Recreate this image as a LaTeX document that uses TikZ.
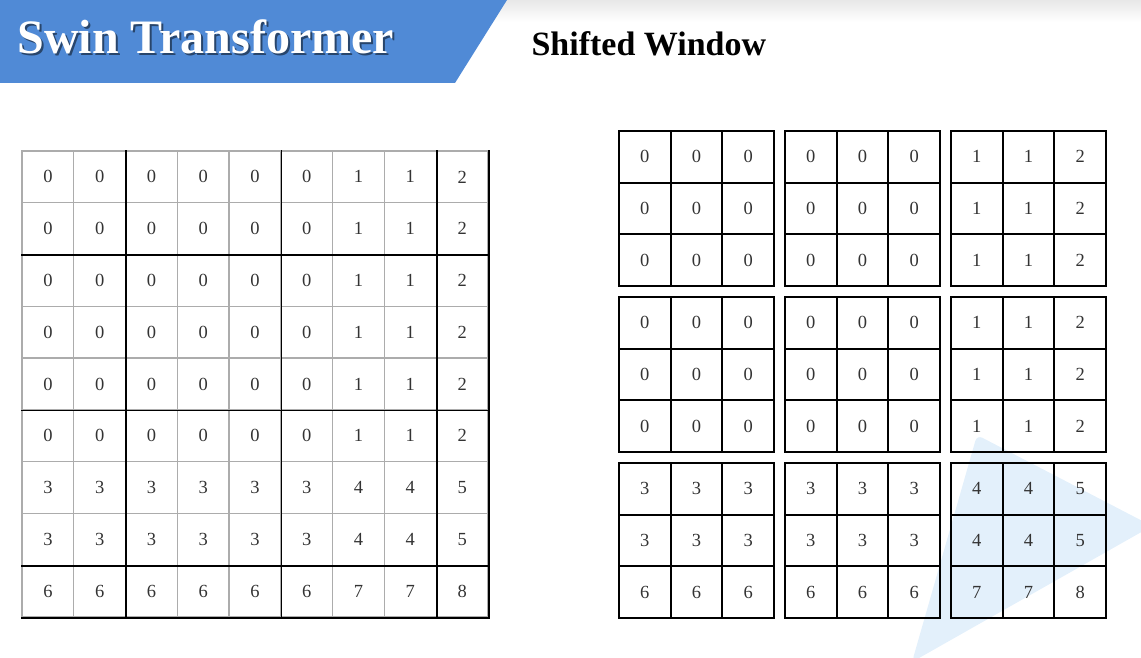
\documentclass[tikz,border=0pt]{standalone}
\usepackage{fontspec}
\setmainfont{Liberation Serif}
\definecolor{swinblue}{RGB}{80,138,214}
\definecolor{markblue}{RGB}{227,240,251}
\definecolor{gridgray}{RGB}{172,172,172}
\tikzset{
every cell/.style={ % Sets the properties for each number box
inner sep=0pt,
text=black!80,
font=\fontsize{18.5}{20}\selectfont},
lcell/.style={every cell, % Boxes of the full map
draw=gridgray,
line width=1.3pt,
minimum size=51.78pt},
rcell/.style={every cell, % Boxes of the shifted windows
draw=black,
line width=2pt,
minimum size=51.67pt},
winline/.style={ % Window borders on the full map
draw=black,
line width=1.8pt}}

\begin{document}
\begin{tikzpicture}[x=1pt, y=-1pt]
\useasboundingbox (0,0) rectangle (1141,658);
% background
\shade[top color=black!9, bottom color=white] (0,0) rectangle (1141,22);
\fill[markblue, rounded corners=6pt] (977,435) -- (1152,526) -- (912,662) -- cycle;
\fill[swinblue] (0,0) -- (507,0) -- (455,83) -- (0,83) -- cycle;
\node[anchor=base west, text=swinblue!50!black, font=\fontsize{48}{50}\selectfont\bfseries] (shadow) at (16,55.5) {Swin Transformer};
\node[anchor=base west, text=white, font=\fontsize{48}{50}\selectfont\bfseries] (title) at (14,54) {Swin Transformer};
\node[anchor=base west, font=\fontsize{34}{36}\selectfont\bfseries] (subtitle) at (528,56) {Shifted Window};
% full map and shifted windows
\foreach \i in {1,...,9}{
  \foreach \j in {1,...,9}{
    \pgfmathtruncatemacro\val{(\j>6)+(\j>8)+3*((\i>6)+(\i>8))}
    \pgfmathsetmacro\lx{22+51.78*(\j-0.5)}
    \pgfmathsetmacro\ly{151+51.78*(\i-0.5)}
    \pgfmathsetmacro\rx{619+166*int((\j-1)/3)+51.67*(mod(\j-1,3)+0.5)}
    \pgfmathsetmacro\ry{131+166*int((\i-1)/3)+51.67*(mod(\i-1,3)+0.5)}
    \node[lcell] (L-\i-\j) at (\lx,\ly) {\val};
    \node[rcell] (R-\i-\j) at (\rx,\ry) {\val};
  }
}
\foreach \k in {2,5,8}{
  \draw[winline] (L-1-\k.north east) -- (L-9-\k.south east);
  \draw[winline] (L-\k-1.south west) -- (L-\k-9.south east);
}
\draw[winline] (L-1-9.north east) -- (L-9-9.south east) -- (L-9-1.south west);
\end{tikzpicture}
\end{document}
